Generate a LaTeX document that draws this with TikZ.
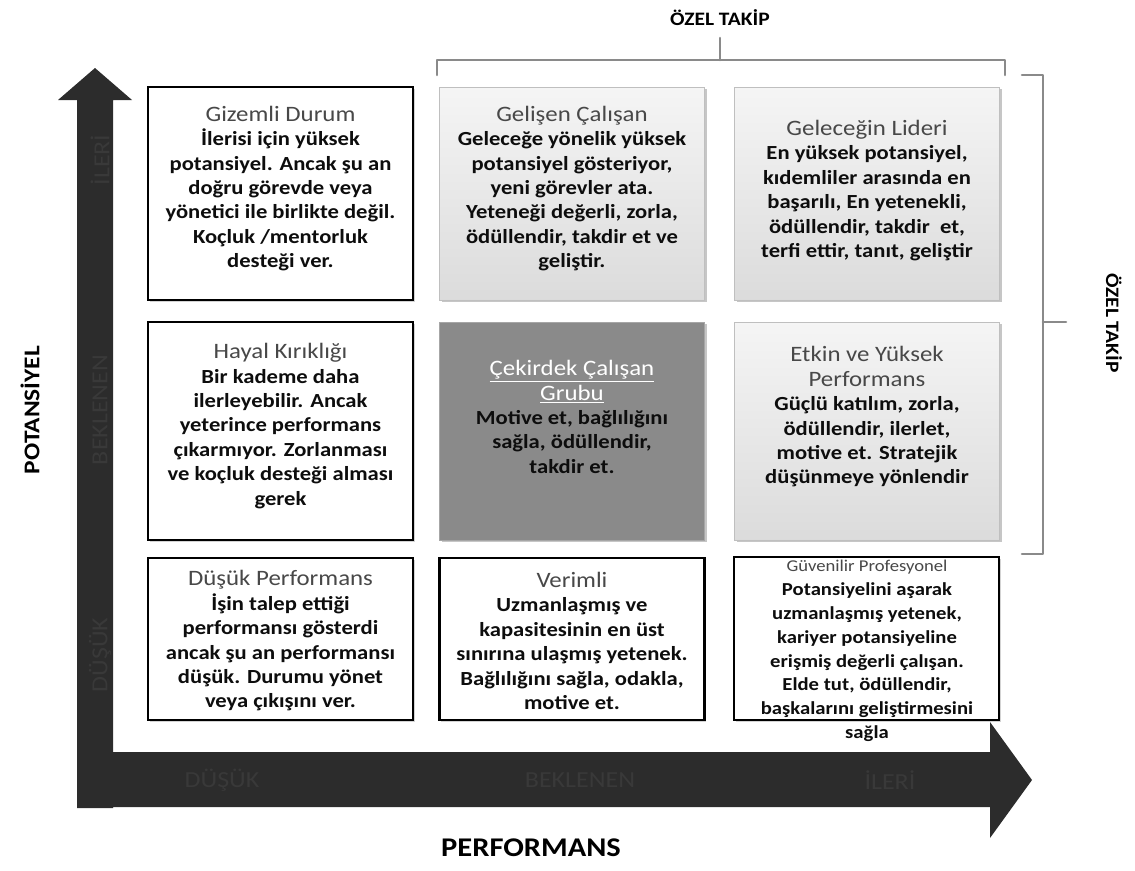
\documentclass[tikz,border=0pt]{standalone}
\usepackage{fontspec}
\setmainfont{Carlito}[FakeStretch=1.13]
\usetikzlibrary{shadows}

\definecolor{shaft}{HTML}{2C2C2C}
\definecolor{faint}{HTML}{393939}
\definecolor{titlegray}{HTML}{484848}
\definecolor{bracegray}{HTML}{8A8A8A}
\definecolor{coregray}{HTML}{8A8A8A}

% heading line inside a cell
\newcommand\celltitle{\fontsize{22}{24.4}\selectfont\mdseries\color{titlegray}}

\tikzset{
  whitebox/.style={draw=black, line width=2.4pt, fill=white,
    drop shadow={shadow xshift=1.5pt, shadow yshift=-1.5pt, opacity=0.35}},
  lightbox/.style={draw=black!25, line width=1pt,
    top color=black!4, bottom color=black!14,
    drop shadow={shadow xshift=2pt, shadow yshift=-2pt, opacity=0.45}},
  corebox/.style={draw=black!35, line width=1pt, fill=coregray,
    drop shadow={shadow xshift=2pt, shadow yshift=-2pt, opacity=0.45}},
  cell/.style={inner sep=0pt, minimum width=265pt, minimum height=#1},
  celltext/.style={align=center, inner sep=0pt,
    font=\fontsize{20}{24.4}\selectfont\bfseries, text=black!95},
  axislabel/.style={font=\fontsize{22.5}{24}\selectfont\bfseries, text=black},
  faintlabel/.style={font=\fontsize{23}{24}\selectfont, text=faint},
  brace/.style={draw=bracegray, line width=2.6pt, line cap=round, line join=round}
}

\begin{document}
\begin{tikzpicture}[x=1pt, y=-1pt]
\useasboundingbox (0,0) rectangle (1135,870);

% ---- axes as broad block arrows ----
\fill[shaft] (77,808) -- (77,100) -- (58,100) -- (95,68) -- (132,100) -- (113,100)
  -- (113,752) -- (990,752) -- (990,722) -- (1032,780) -- (990,838) -- (990,807)
  -- (113,807) -- (113,808) -- cycle;

% faint level marks on the axes
\node[faintlabel, rotate=90] (vhi)  at (100,160) {İLERİ};
\node[faintlabel, rotate=90] (vmid) at (100,410) {BEKLENEN};
\node[faintlabel, rotate=90] (vlo)  at (100,655) {DÜŞÜK};
\node[faintlabel] (hlo)  at (222,780) {DÜŞÜK};
\node[faintlabel] (hmid) at (580,780) {BEKLENEN};
\node[faintlabel] (hhi)  at (890,780) {İLERİ};

% axis titles
\node[axislabel, rotate=90] (ylab) at (30,410) {POTANSİYEL};
\node[axislabel, font=\fontsize{27}{28}\selectfont\bfseries] (xlab) at (531,848) {PERFORMANS};

% ---- grid cells ----
\node[cell=213pt, whitebox] (c11) at (280.5,193.5) {};
\node[cell=213pt, lightbox] (c12) at (572,193.5) {};
\node[cell=213pt, lightbox] (c13) at (867,193.5) {};
\node[cell=218pt, whitebox] (c21) at (280.5,431) {};
\node[cell=218pt, corebox]  (c22) at (572,431) {};
\node[cell=218pt, lightbox] (c23) at (867,431) {};
\node[cell=162pt, whitebox] (c31) at (280.5,639) {};
\node[cell=162pt, whitebox] (c32) at (572,639) {};
\node[cell=163pt, whitebox] (c33) at (866.5,638.5) {};

% ---- cell texts (yshift is in page units: positive moves up) ----
\node[celltext] (t11) at ([yshift=5pt]c11.center) {%
  {\celltitle Gizemli Durum}\\
  İlerisi için yüksek\\
  potansiyel. Ancak şu an\\
  doğru görevde veya\\
  yönetici ile birlikte değil.\\
  Koçluk /mentorluk\\
  desteği ver.};
\node[celltext] (t12) at ([yshift=5pt]c12.center) {%
  {\celltitle Gelişen Çalışan}\\
  Geleceğe yönelik yüksek\\
  potansiyel gösteriyor,\\
  yeni görevler ata.\\
  Yeteneği değerli, zorla,\\
  ödüllendir, takdir et ve\\
  geliştir.};
\node[celltext] (t13) at ([yshift=3pt]c13.center) {%
  {\celltitle Geleceğin Lideri}\\
  En yüksek potansiyel,\\
  kıdemliler arasında en\\
  başarılı, En yetenekli,\\
  ödüllendir, takdir\ \ et,\\
  terfi ettir, tanıt, geliştir};
\node[celltext] (t21) at ([yshift=5pt]c21.center) {%
  {\celltitle Hayal Kırıklığı}\\
  Bir kademe daha\\
  ilerleyebilir. Ancak\\
  yeterince performans\\
  çıkarmıyor. Zorlanması\\
  ve koçluk desteği alması\\
  gerek};
\node[celltext] (t22) at ([yshift=14pt]c22.center) {%
  {\celltitle\color{white}\underline{Çekirdek Çalışan}}\\
  {\celltitle\color{white}\underline{Grubu}}\\
  Motive et, bağlılığını\\
  sağla, ödüllendir,\\
  takdir et.};
\node[celltext] (t23) at ([yshift=14pt]c23.center) {%
  {\celltitle Etkin ve Yüksek}\\
  {\celltitle Performans}\\
  Güçlü katılım, zorla,\\
  ödüllendir, ilerlet,\\
  motive et. Stratejik\\
  düşünmeye yönlendir};
\node[celltext] (t31) at ([yshift=-2pt]c31.center) {%
  {\celltitle Düşük Performans}\\
  İşin talep ettiği\\
  performansı gösterdi\\
  ancak şu an performansı\\
  düşük. Durumu yönet\\
  veya çıkışını ver.};
\node[celltext] (t32) at ([yshift=-2pt]c32.center) {%
  {\celltitle Verimli}\\
  Uzmanlaşmış ve\\
  kapasitesinin en üst\\
  sınırına ulaşmış yetenek.\\
  Bağlılığını sağla, odakla,\\
  motive et.};
\node[celltext, font=\fontsize{18.3}{23.8}\selectfont\bfseries] (t33) at (867,651) {%
  {\fontsize{16.5}{20}\selectfont\mdseries\color{titlegray}Güvenilir Profesyonel}\\
  Potansiyelini aşarak\\
  uzmanlaşmış yetenek,\\
  kariyer potansiyeline\\
  erişmiş değerli çalışan.\\
  Elde tut, ödüllendir,\\
  başkalarını geliştirmesini\\
  sağla};

% ---- braces over the high-potential region ----
\coordinate (bl) at (437,75);
\coordinate (br) at (1005,75);
\draw[brace] (bl) -- (437,60) -- (1005,60) -- (br);
\node[axislabel, font=\fontsize{19}{20}\selectfont\bfseries] (topt) at (720,18) {ÖZEL TAKİP};
\coordinate (tick) at (720,38);
\draw[brace] (720,60) -- (tick);

\coordinate (rt) at (1022,75);
\coordinate (rb) at (1022,554);
\draw[brace] (rt) -- (1043,75) -- (1043,554) -- (rb);
\coordinate (rtick) at (1066,322);
\draw[brace] (1043,322) -- (rtick);
\node[axislabel, font=\fontsize{19}{20}\selectfont\bfseries, rotate=-90] (sidet) at (1114,323) {ÖZEL TAKİP};
\end{tikzpicture}
\end{document}
